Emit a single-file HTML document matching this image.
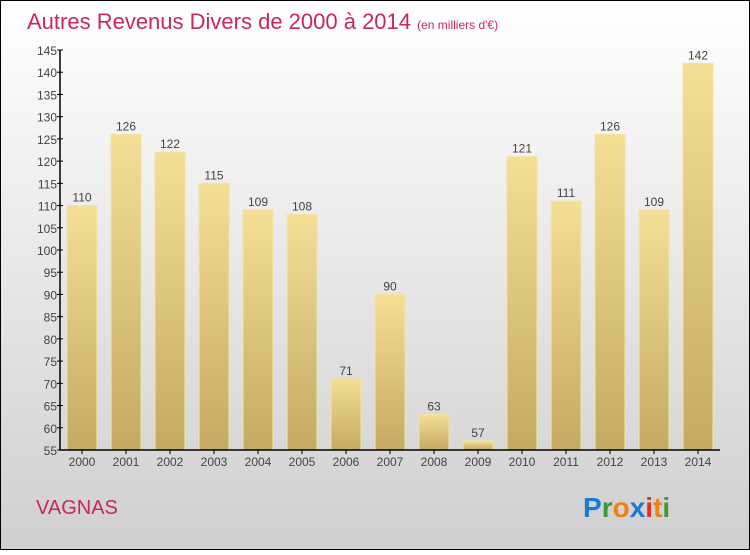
<!DOCTYPE html>
<html><head><meta charset="utf-8"><style>
body{margin:0;width:750px;height:550px;overflow:hidden;font-family:"Liberation Sans",sans-serif}
</style></head><body>
<svg width="750" height="550" xmlns="http://www.w3.org/2000/svg">
<defs>
<linearGradient id="bg" x1="0" y1="0" x2="0" y2="1"><stop offset="0" stop-color="#ffffff"/><stop offset="1" stop-color="#cfcfcf"/></linearGradient>
<linearGradient id="bar" x1="0" y1="0" x2="0" y2="1"><stop offset="0" stop-color="#f5de96"/><stop offset="1" stop-color="#c4aa62"/></linearGradient>
</defs>
<rect x="0.5" y="0.5" width="749" height="549" fill="url(#bg)" stroke="#000"/>
<text x="27" y="29" font-size="22" fill="#c8285c">Autres Revenus Divers de 2000 à 2014 <tspan font-size="12">(en milliers d'€)</tspan></text>
<g id="plot"></g>
<text x="36" y="514" font-size="20" fill="#c8285c">VAGNAS</text>
<g font-size="28" font-weight="bold" font-family="'Liberation Sans',sans-serif">
<text x="583" y="517"><tspan fill="#1a7ad4">P</tspan><tspan fill="#3a9a3a">r</tspan><tspan fill="#f08010">o</tspan><tspan fill="#1a7ad4">x</tspan><tspan fill="#e03020">i</tspan><tspan fill="#f08010">t</tspan><tspan fill="#3a9a3a">i</tspan></text>
</g>
</svg>
<script>
const years=["2000","2001","2002","2003","2004","2005","2006","2007","2008","2009","2010","2011","2012","2013","2014"];
const values=[110,126,122,115,109,108,71,90,63,57,121,111,126,109,142];
const yTicks=[55,60,65,70,75,80,85,90,95,100,105,110,115,120,125,130,135,140,145];
const NS="http://www.w3.org/2000/svg";
const g=document.getElementById('plot');
const x0=60,x1=720,yTop=50,yBot=450,vMin=55,vMax=145;
const band=(x1-x0)/years.length;
function y(v){return yBot-(v-vMin)/(vMax-vMin)*(yBot-yTop);}
function mk(t,a,txt){const e=document.createElementNS(NS,t);for(const k in a)e.setAttribute(k,a[k]);if(txt!==undefined)e.textContent=txt;g.appendChild(e);return e;}
values.forEach((v,i)=>{
 const bx=x0+i*band+7;
 const r=mk('rect',{x:bx,y:y(v),width:band-14,height:yBot-y(v),fill:'url(#bar)',stroke:'#f3e3a0','stroke-width':1});
 
 
 const t=mk('text',{x:bx+(band-14)/2,y:y(v)-4,'font-size':12,'text-anchor':'middle',fill:'#444'},String(v));
 
 
 const xt=mk('text',{x:x0+i*band+band/2,y:466,'font-size':12,'text-anchor':'middle',fill:'#444'},years[i]);
 
 
 mk('line',{x1:x0+i*band+band/2,x2:x0+i*band+band/2,y1:yBot,y2:yBot+4,stroke:'#000'});
});
yTicks.forEach(v=>{
 mk('line',{x1:x0-3,x2:x0+3,y1:y(v),y2:y(v),stroke:'#000'});
 const t=mk('text',{x:x0-3,y:y(v)+5,'font-size':12,'text-anchor':'end',fill:'#444'},String(v));
 
 
});
const ya=mk('line',{x1:x0,x2:x0,y1:yTop,y2:yBot,stroke:'#000','stroke-width':1.5});


const xa=mk('line',{x1:x0,x2:x1,y1:yBot,y2:yBot,stroke:'#000','stroke-width':1.5});


</script>
</body></html>
